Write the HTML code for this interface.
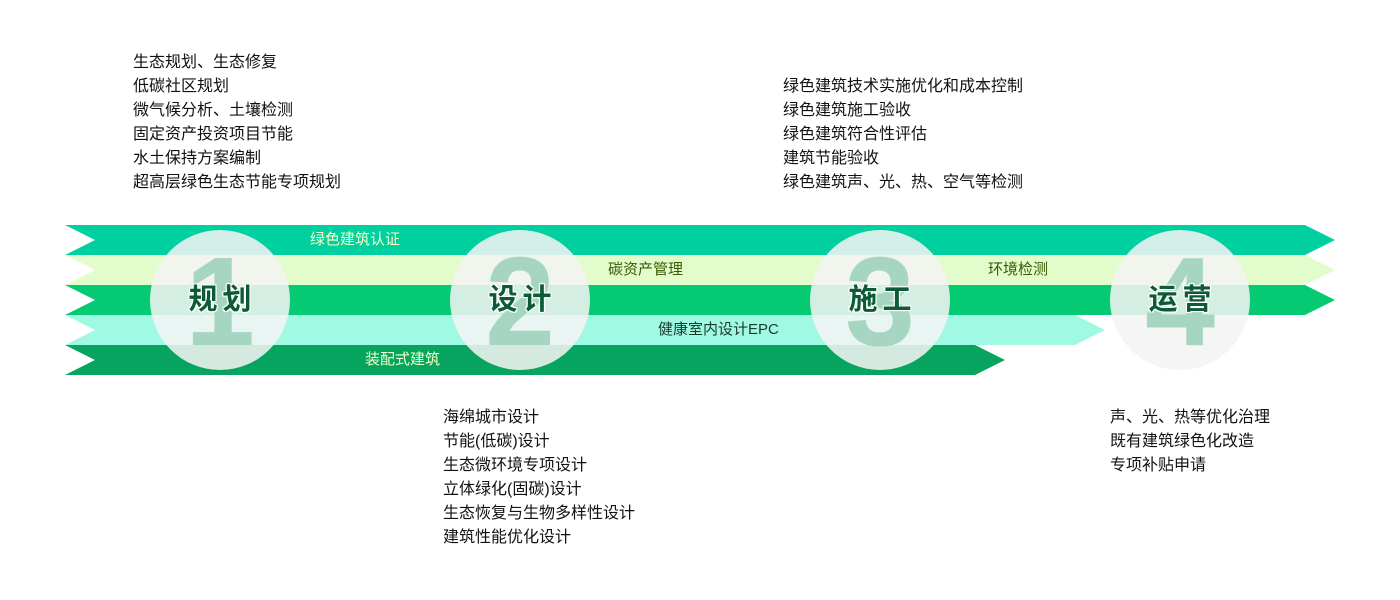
<!DOCTYPE html>
<html><head><meta charset="utf-8"><style>
body{margin:0;width:1400px;height:600px;background:#fff;position:relative;overflow:hidden;font-family:"Liberation Sans","Noto Sans CJK SC",sans-serif;}
.list{position:absolute;font-size:16px;line-height:24px;color:#111;}
.lbl{position:absolute;font-size:15px;line-height:30px;}
.c{position:absolute;width:140px;height:140px;border-radius:50%;background:rgba(244,244,244,0.87);}
.n{position:absolute;width:140px;text-align:center;font-size:126px;line-height:140px;font-weight:bold;color:#a6d6c2;font-family:"Liberation Sans",sans-serif;}
.t{position:absolute;width:140px;text-align:center;font-size:29px;line-height:30px;font-weight:bold;color:#0d5a36;letter-spacing:5px;text-indent:5px;text-shadow:0 0 2px #fff,0 0 2px #fff,1px 1px 0 #fff,-1px -1px 0 #fff,1px -1px 0 #fff,-1px 1px 0 #fff;}
</style></head><body>
<div class="list" style="left:133px;top:51px">生态规划、生态修复<br>低碳社区规划<br>微气候分析、土壤检测<br>固定资产投资项目节能<br>水土保持方案编制<br>超高层绿色生态节能专项规划</div>
<div class="list" style="left:783px;top:75px">绿色建筑技术实施优化和成本控制<br>绿色建筑施工验收<br>绿色建筑符合性评估<br>建筑节能验收<br>绿色建筑声、光、热、空气等检测</div>
<div class="list" style="left:443px;top:406px">海绵城市设计<br>节能(低碳)设计<br>生态微环境专项设计<br>立体绿化(固碳)设计<br>生态恢复与生物多样性设计<br>建筑性能优化设计</div>
<div class="list" style="left:1110px;top:406px">声、光、热等优化治理<br>既有建筑绿色化改造<br>专项补贴申请</div>
<svg width="1400" height="600" style="position:absolute;left:0;top:0">
<polygon points="65,225 1305,225 1335,240 1305,255 65,255 95,240" fill="#00cf9f"/>
<polygon points="65,255 1305,255 1335,270 1305,285 65,285 95,270" fill="#e3fccb"/>
<polygon points="65,285 1305,285 1335,300 1305,315 65,315 95,300" fill="#05c973"/>
<polygon points="65,315 1075,315 1105,330 1075,345 65,345 95,330" fill="#a0f9e2"/>
<polygon points="65,345 975,345 1005,360 975,375 65,375 95,360" fill="#06a45f"/>
</svg>
<div class="lbl" style="left:310px;top:225px;color:#f5ffc8">绿色建筑认证</div>
<div class="lbl" style="left:608px;top:255px;color:#3a5a00">碳资产管理</div>
<div class="lbl" style="left:988px;top:255px;color:#3a5a00">环境检测</div>
<div class="lbl" style="left:658px;top:315px;color:#1a3a2a">健康室内设计EPC</div>
<div class="lbl" style="left:365px;top:345px;color:#f5ffc8">装配式建筑</div>
<div class="c" style="left:150px;top:230px"></div>
<div class="c" style="left:450px;top:230px"></div>
<div class="c" style="left:810px;top:230px"></div>
<div class="c" style="left:1110px;top:230px"></div>
<div class="n" style="left:150px;top:232px">1</div>
<div class="n" style="left:450px;top:232px">2</div>
<div class="n" style="left:810px;top:232px">3</div>
<div class="n" style="left:1110px;top:232px">4</div>
<div class="t" style="left:150px;top:285px">规划</div>
<div class="t" style="left:450px;top:285px">设计</div>
<div class="t" style="left:810px;top:285px">施工</div>
<div class="t" style="left:1110px;top:285px">运营</div>
</body></html>
